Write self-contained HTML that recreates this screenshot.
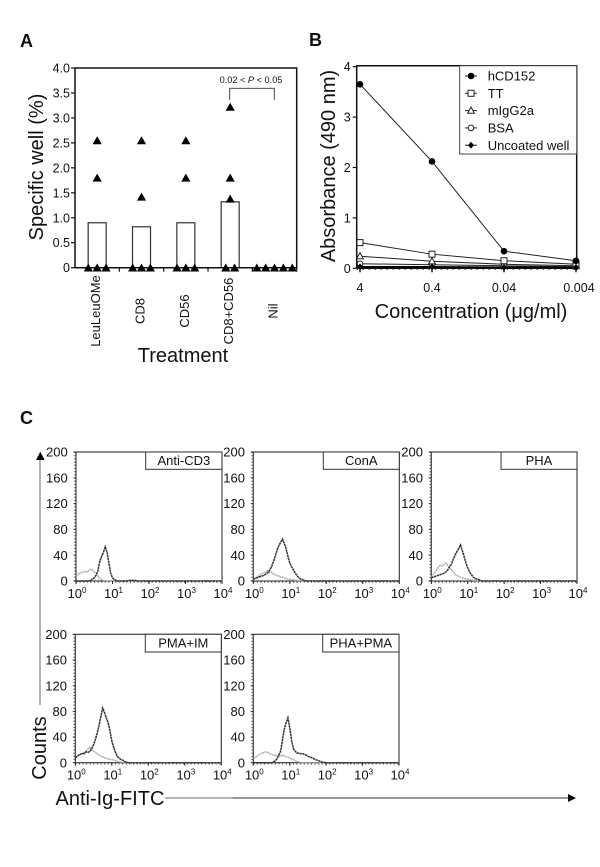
<!DOCTYPE html>
<html lang="en">
<head>
<meta charset="utf-8">
<title>Specific well, absorbance and flow cytometry figure</title>
<style>
html,body{margin:0;padding:0;background:#fff;}
svg{display:block;}
text{font-family:"Liberation Sans",Arial,sans-serif;fill:#111;}
</style>
</head>
<body>
<svg id="figure" xmlns="http://www.w3.org/2000/svg" width="600" height="867" viewBox="0 0 600 867"></svg>
<script>
/* ---------- Panel A data ---------- */
var treatments = ['LeuLeuOMe', 'CD8', 'CD56', 'CD8+CD56', 'Nil'];
var barMeans = [0.9, 0.82, 0.9, 1.32, 0];
var leuPoints = [2.55, 1.8, 0, 0, 0];
var cd8Points = [2.55, 1.42, 0, 0, 0];
var cd56Points = [2.55, 1.8, 0, 0, 0];
var comboPoints = [3.22, 1.8, 1.38, 0, 0];
var nilPoints = [0, 0, 0, 0, 0];
var wellTicks = [0, 0.5, 1, 1.5, 2, 2.5, 3, 3.5, 4];
var wellTickLabels = ['0', '0.5', '1.0', '1.5', '2.0', '2.5', '3.0', '3.5', '4.0'];

/* ---------- Panel B data ---------- */
var concentrations = ['4', '0.4', '0.04', '0.004'];
var seriesNames = ['hCD152', 'TT', 'mIgG2a', 'BSA', 'Uncoated well'];
var hcd152Values = [3.65, 2.12, 0.34, 0.15];
var ttValues = [0.51, 0.28, 0.15, 0.08];
var migValues = [0.24, 0.14, 0.08, 0.05];
var bsaValues = [0.09, 0.07, 0.05, 0.03];
var uncoatedValues = [0.03, 0.03, 0.02, 0.02];
var absorbanceTicks = [0, 1, 2, 3, 4];

/* ---------- Panel C data ---------- */
var panelLabels = ['Anti-CD3', 'ConA', 'PHA', 'PMA+IM', 'PHA+PMA'];
var countTicks = [0, 40, 80, 120, 160, 200];
var decadeTicks = [0, 1, 2, 3, 4];
var logBins = [0, 0.05, 0.1, 0.15, 0.2, 0.25, 0.3, 0.35, 0.4, 0.45, 0.5, 0.55, 0.6, 0.65, 0.7, 0.75, 0.8, 0.85, 0.9, 0.95, 1, 1.05, 1.1, 1.15, 1.2, 1.25, 1.3, 1.35, 1.4, 1.45, 1.5, 1.6, 1.7, 1.8, 1.9, 2, 4];
var cd3Stained = [0,0,0,0,0, 0,0,0,1,3, 5,9,16,30,38, 44,53,45,28,12, 5,2,1,0,0, 0,0,0,0,1, 1,1,0,0,0,0,0];
var cd3Control = [8,10,12,13,14, 15,14,16,18,17, 14,12,8,4,2, 1,0,0,0,0, 0,0,0,0,0, 0,0,0,0,0, 0,0,0,0,0,0,0];
var conaStained = [3,4,5,6,7, 8,9,11,13,17, 22,30,38,48,55, 60,65,58,50,38, 28,22,17,12,8, 5,3,2,1,0, 0,0,0,0,0,0,0];
var conaControl = [2,4,6,8,10, 12,13,14,16,13, 14,11,10,8,8, 6,6,5,4,3, 3,2,2,1,1, 0,0,0,0,0, 0,0,0,0,0,0,0];
var phaStained = [5,6,7,8,9, 10,11,12,14,17, 22,26,33,40,45, 50,56,47,38,28, 20,14,10,6,4, 3,2,1,0,0, 0,0,0,0,0,0,0];
var phaControl = [6,10,14,18,22, 24,23,26,28,24, 20,18,14,10,9, 7,6,5,4,3, 3,2,2,1,1, 0,0,0,0,0, 0,0,0,0,0,0,0];
var pmaStained = [8,10,12,13,15, 14,17,16,18,22, 28,36,46,58,72, 85,78,70,62,50, 34,24,16,10,7, 5,4,2,1,0, 0,0,0,0,0,0,0];
var pmaControl = [8,10,12,14,14, 16,18,22,24,20, 18,16,14,12,10, 9,8,7,6,5, 5,4,3,2,1, 1,0,0,0,0, 0,0,0,0,0,0,0];
var phaPmaStained = [0,0,0,0,0, 0,0,0,0,0, 0,1,3,6,12, 18,35,52,62,70, 55,35,22,18,15, 15,14,14,13,12, 10,8,5,3,1,0,0];
var phaPmaControl = [6,8,10,12,14, 15,16,17,16,14, 13,12,12,11,10, 12,10,11,9,8, 8,6,5,3,2, 1,0,0,0,0, 0,0,0,0,0,0,0];

var NS = 'http://www.w3.org/2000/svg';
var svg = document.getElementById('figure');

function make(parent, tag, attrs, content) {
  var node = document.createElementNS(NS, tag);
  for (var key in attrs) { node.setAttribute(key, attrs[key]); }
  if (content !== undefined) { node.textContent = content; }
  parent.appendChild(node);
  return node;
}

var DARK = '#111';

/* ---------- Panel letters ---------- */
var letterA = make(svg, 'text', {x: 20, y: 47, 'font-size': 18, 'font-weight': 'bold'}, 'A');


var letterB = make(svg, 'text', {x: 309, y: 46, 'font-size': 18, 'font-weight': 'bold'}, 'B');


var letterC = make(svg, 'text', {x: 20, y: 424, 'font-size': 18, 'font-weight': 'bold'}, 'C');



/* ---------- Panel A ---------- */
var aLeft = 75, aRight = 296.7, aTop = 68, aBottom = 267.7;
function wellY(v) { return aBottom - v / 4 * (aBottom - aTop); }
function treatmentX(i) { return aLeft + (i + 0.5) * (aRight - aLeft) / treatments.length; }

var panelA = make(svg, 'g', {});



barMeans.forEach(function (m, i) {
  if (m <= 0) { return; }
  var bar = make(panelA, 'rect', {x: treatmentX(i) - 9, y: wellY(m), width: 18, height: aBottom - wellY(m), fill: '#fff', stroke: '#333', 'stroke-width': 1.2});
  
  
});

var frameA = make(panelA, 'path', {d: 'M' + aLeft + ' ' + aBottom + 'V' + aTop + 'H' + aRight + 'V' + aBottom + 'H' + aLeft, fill: 'none', stroke: DARK, 'stroke-width': 1.5});



wellTicks.forEach(function (t, i) {
  var tick = make(panelA, 'line', {x1: aLeft - 4, x2: aLeft, y1: wellY(t), y2: wellY(t), stroke: DARK, 'stroke-width': 1.2});
  
  
  var label = make(panelA, 'text', {x: aLeft - 5, y: wellY(t) + 4.5, 'text-anchor': 'end', 'font-size': 12.5}, wellTickLabels[i]);
  
  
});

treatments.forEach(function (name, i) {
  var bx = aLeft + (i + 1) * (aRight - aLeft) / treatments.length;
  var tick = make(panelA, 'line', {x1: bx, x2: bx, y1: aBottom, y2: aBottom + 4, stroke: DARK, 'stroke-width': 1.2});
  
  
  var cx = treatmentX(i) + 3;
  var label = make(panelA, 'text', {x: cx, y: 311, transform: 'rotate(-90 ' + cx + ' 311)', 'text-anchor': 'middle', 'font-size': 13}, name);
  
  
});

[leuPoints, cd8Points, cd56Points, comboPoints, nilPoints].forEach(function (values, i) {
  var groups = {};
  values.forEach(function (v) { groups[v] = (groups[v] || 0) + 1; });
  Object.keys(groups).forEach(function (key) {
    var n = groups[key], v = parseFloat(key);
    for (var k = 0; k < n; k++) {
      var px = treatmentX(i) + (k - (n - 1) / 2) * 8.85, py = wellY(v);
      var tri = make(panelA, 'path', {d: 'M' + px + ' ' + (py - 4.2) + 'L' + (px + 4.6) + ' ' + (py + 3.8) + 'H' + (px - 4.6) + 'Z', fill: '#000'});
      
      
    }
  });
});

var bracket = make(panelA, 'path', {d: 'M229.7 100V88.3H274.3V100', fill: 'none', stroke: '#333', 'stroke-width': 0.9});


var pText = make(panelA, 'text', {x: 251, y: 83, 'text-anchor': 'middle', 'font-size': 9.2});


pText.appendChild(document.createTextNode('0.02 < '));
make(pText, 'tspan', {'font-style': 'italic'}, 'P');
pText.appendChild(document.createTextNode(' < 0.05'));

var aYTitle = make(panelA, 'text', {x: 43, y: 167, transform: 'rotate(-90 43 167)', 'text-anchor': 'middle', 'font-size': 20}, 'Specific well (%)');


var aXTitle = make(panelA, 'text', {x: 183, y: 362, 'text-anchor': 'middle', 'font-size': 20}, 'Treatment');



/* ---------- Panel B ---------- */
var bLeft = 356.7, bRight = 576.7, bTop = 65.7, bZero = 268.3, bFour = 66.7;
function absY(v) { return bZero - v / 4 * (bZero - bFour); }
function concX(i) { return 360 + i * 72; }

var panelB = make(svg, 'g', {});



var frameB = make(panelB, 'path', {d: 'M' + bLeft + ' ' + bZero + 'V' + bTop + 'H' + bRight + 'V' + bZero + 'H' + bLeft, fill: 'none', stroke: DARK, 'stroke-width': 1.5});



absorbanceTicks.forEach(function (t) {
  var tick = make(panelB, 'line', {x1: bLeft - 4, x2: bLeft, y1: absY(t), y2: absY(t), stroke: DARK, 'stroke-width': 1.2});
  
  
  var label = make(panelB, 'text', {x: bLeft - 6, y: absY(t) + 4.5, 'text-anchor': 'end', 'font-size': 12.5}, String(t));
  
  
});

concentrations.forEach(function (c, i) {
  var tick = make(panelB, 'line', {x1: concX(i), x2: concX(i), y1: bZero, y2: bZero + 4, stroke: DARK, 'stroke-width': 1.4});
  
  
  var label = make(panelB, 'text', {x: concX(i) + (i === 3 ? 3 : 0), y: 292, 'text-anchor': 'middle', 'font-size': 12.5}, c);
  
  
});

function drawMarker(parent, kind, x, y) {
  var shape;
  if (kind === 0) {
    shape = make(parent, 'circle', {cx: x, cy: y, r: 3.3, fill: '#000'});
  } else if (kind === 1) {
    shape = make(parent, 'rect', {x: x - 3, y: y - 3, width: 6, height: 6, fill: '#fff', stroke: '#222', 'stroke-width': 1});
  } else if (kind === 2) {
    shape = make(parent, 'path', {d: 'M' + x + ' ' + (y - 3.6) + 'L' + (x + 3.4) + ' ' + (y + 2.6) + 'H' + (x - 3.4) + 'Z', fill: '#fff', stroke: '#222', 'stroke-width': 1});
  } else if (kind === 3) {
    shape = make(parent, 'circle', {cx: x, cy: y, r: 2.8, fill: '#fff', stroke: '#222', 'stroke-width': 1});
  } else {
    shape = make(parent, 'path', {d: 'M' + x + ' ' + (y - 3.4) + 'L' + (x + 3) + ' ' + y + 'L' + x + ' ' + (y + 3.4) + 'L' + (x - 3) + ' ' + y + 'Z', fill: '#000'});
  }
  
  
}

[hcd152Values, ttValues, migValues, bsaValues, uncoatedValues].forEach(function (values, s) {
  var pts = values.map(function (v, i) { return concX(i) + ',' + absY(v); }).join(' ');
  var line = make(panelB, 'polyline', {points: pts, fill: 'none', stroke: s === 4 ? '#000' : '#222', 'stroke-width': s === 4 ? 1.6 : 1});
  
  
});
[bsaValues, migValues, ttValues, hcd152Values, uncoatedValues].forEach(function (values, order) {
  var kind = [3, 2, 1, 0, 4][order];
  values.forEach(function (v, i) { drawMarker(panelB, kind, concX(i), absY(v)); });
});

var bMinor = make(panelB, 'line', {x1: bLeft, x2: bRight, y1: bZero + 1, y2: bZero + 1, stroke: '#222', 'stroke-width': 1.5, 'stroke-dasharray': '1 5'});



var legend = make(panelB, 'g', {});


var legendBox = make(legend, 'rect', {x: 459.7, y: 65.7, width: 117, height: 88.3, fill: '#fff', stroke: '#444', 'stroke-width': 1});


seriesNames.forEach(function (name, s) {
  var ly = 76 + s * 17.3;
  var sample = make(legend, 'line', {x1: 465, x2: 477, y1: ly, y2: ly, stroke: '#222', 'stroke-width': 1});
  
  
  drawMarker(legend, s, 471, ly);
  var label = make(legend, 'text', {x: 487.7, y: ly + 4.6, 'font-size': 13}, name);
  
  
});

var bYTitle = make(panelB, 'text', {x: 335, y: 166, transform: 'rotate(-90 335 166)', 'text-anchor': 'middle', 'font-size': 20}, 'Absorbance (490 nm)');


var bXTitle = make(panelB, 'text', {x: 471, y: 318, 'text-anchor': 'middle', 'font-size': 20}, 'Concentration (μg/ml)');



/* ---------- Panel C ---------- */
var histLayout = [
  {l: 76, r: 222, t: 452, b: 581, boxL: 145.7, boxB: 469.3},
  {l: 253.3, r: 399.3, t: 452, b: 581, boxL: 323.3, boxB: 469.3},
  {l: 431.3, r: 577, t: 452, b: 581, boxL: 501, boxB: 469.3},
  {l: 75.3, r: 221.3, t: 634.3, b: 762.7, boxL: 145.3, boxB: 652},
  {l: 253.3, r: 399, t: 634.3, b: 762.7, boxL: 322.7, boxB: 652}
];
var stainedCurves = [cd3Stained, conaStained, phaStained, pmaStained, phaPmaStained];
var controlCurves = [cd3Control, conaControl, phaControl, pmaControl, phaPmaControl];

histLayout.forEach(function (p, idx) {
  function logX(d) { return p.l + d / 4 * (p.r - p.l); }
  function countY(c) { return p.b - c / 200 * (p.b - p.t); }
  var g = make(svg, 'g', {});
  
  

  var frame = make(g, 'rect', {x: p.l, y: p.t, width: p.r - p.l, height: p.b - p.t, fill: '#fff', stroke: '#333', 'stroke-width': 1.1});
  
  

  var control = make(g, 'polyline', {points: logBins.map(function (d, i) { return logX(d) + ',' + countY(controlCurves[idx][i]); }).join(' '), fill: 'none', stroke: '#a8a8a8', 'stroke-width': 1.4, 'stroke-dasharray': '2 0.6'});
  
  
  var stained = make(g, 'polyline', {points: logBins.map(function (d, i) { return logX(d) + ',' + countY(stainedCurves[idx][i]); }).join(' '), fill: 'none', stroke: '#333', 'stroke-width': 1.5, 'stroke-dasharray': '2.4 0.5'});
  
  

  countTicks.forEach(function (t) {
    var tick = make(g, 'line', {x1: p.l - 2.5, x2: p.l, y1: countY(t), y2: countY(t), stroke: '#222', 'stroke-width': 1});
    
    
    var label = make(g, 'text', {x: p.l - 8.3, y: countY(t) + 4.6, 'text-anchor': 'end', 'font-size': 13}, String(t));
    
    
  });

  var minorY = make(g, 'line', {x1: p.l - 1, x2: p.l - 1, y1: p.t, y2: p.b, stroke: '#444', 'stroke-width': 1.5, 'stroke-dasharray': '1 2.2'});
  
  
  var minorX = make(g, 'line', {x1: p.l, x2: p.r, y1: p.b + 1, y2: p.b + 1, stroke: '#444', 'stroke-width': 1.5, 'stroke-dasharray': '1 2.6'});
  
  

  decadeTicks.forEach(function (d) {
    var tick = make(g, 'line', {x1: logX(d), x2: logX(d), y1: p.b, y2: p.b + 3, stroke: '#222', 'stroke-width': 1});
    
    
    var label = make(g, 'text', {x: logX(d) + 1, y: p.b + 17, 'text-anchor': 'middle', 'font-size': 13});
    
    
    label.appendChild(document.createTextNode('10'));
    make(label, 'tspan', {dy: -5, 'font-size': 8}, String(d));
  });

  var box = make(g, 'rect', {x: p.boxL, y: p.t, width: p.r - p.boxL, height: p.boxB - p.t, fill: '#fff', stroke: '#333', 'stroke-width': 1});
  
  
  var boxText = make(g, 'text', {x: (p.boxL + p.r) / 2, y: p.boxB - 4.3, 'text-anchor': 'middle', 'font-size': 13}, panelLabels[idx]);
  
  
});

var countsArrow = make(svg, 'line', {x1: 40, x2: 40, y1: 458, y2: 705, stroke: '#8a8a8a', 'stroke-width': 1.3});


var countsHead = make(svg, 'path', {d: 'M40.3 451.7L44.7 460H36Z', fill: '#000'});


var countsTitle = make(svg, 'text', {x: 46, y: 748, transform: 'rotate(-90 46 748)', 'text-anchor': 'middle', 'font-size': 20}, 'Counts');


var fitcTitle = make(svg, 'text', {x: 55.5, y: 805, 'font-size': 20}, 'Anti-Ig-FITC');


var fitcLineGray = make(svg, 'line', {x1: 165, x2: 233, y1: 798, y2: 798, stroke: '#8a8a8a', 'stroke-width': 1.2});


var fitcLineDark = make(svg, 'line', {x1: 233, x2: 569, y1: 798, y2: 798, stroke: '#333', 'stroke-width': 1});


var fitcHead = make(svg, 'path', {d: 'M576 798L568 794V802Z', fill: '#000'});


</script>
</body>
</html>
